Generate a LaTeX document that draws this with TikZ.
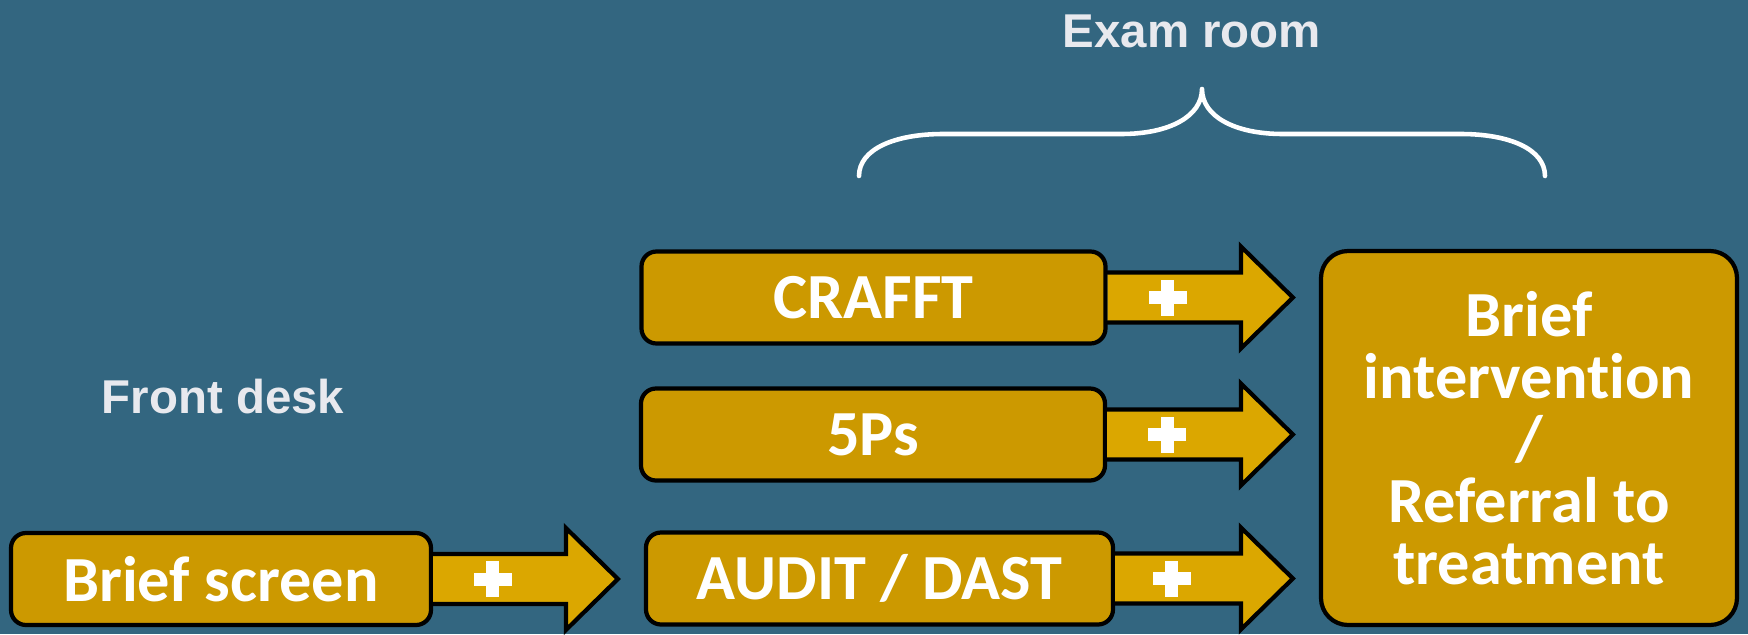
\documentclass[tikz,border=0pt]{standalone}
\usepackage{fontspec}
\setmainfont{Carlito}[Ligatures=NoCommon]
\newfontfamily\headfont{Liberation Sans}
\usetikzlibrary{calc}

\definecolor{slateblue}{RGB}{51,102,128}
\definecolor{boxgold}{RGB}{204,153,0}
\definecolor{arrowgold}{RGB}{219,167,0}
\definecolor{headgray}{RGB}{232,233,238}

\begin{document}
\begin{tikzpicture}[line cap=round, line join=round]
  \def\sh{0.25} % nửa bề dày thân mũi tên
  \def\hh{0.51} % nửa bề cao đầu mũi tên
  \def\hl{0.52} % chiều dài đầu mũi tên
  \tikzset{
    box/.style={line width=1.2pt, draw=black, fill=boxgold, rounded corners=0.15cm, text=white,
      font=\fontsize{18.3}{17.6}\selectfont\bfseries, align=center, inner sep=0pt},
    bigbox/.style={box, rounded corners=0.27cm},
    blockarrow/.style={line width=1.2pt, draw=black, fill=arrowgold, line join=miter},
    roomtext/.style={text=headgray, font=\headfont\fontsize{13.5}{16}\selectfont\bfseries},
    brace/.style={line width=1.3pt, draw=white}
  }
  % mũi tên khối có dấu cộng: #1 ô nguồn, #2 ô đích, #3 tên
  \def\plusarrow#1#2#3{%
    \coordinate (#3-s) at (#1.east);
    \coordinate (#3-t) at ($(#1.east -| #2.west)+(-0.26,0)$);
    \filldraw[blockarrow] ($(#3-s)+(0,\sh)$) -- ($(#3-t)+(-\hl,\sh)$) -- ($(#3-t)+(-\hl,\hh)$)
      -- (#3-t) -- ($(#3-t)+(-\hl,-\hh)$) -- ($(#3-t)+(-\hl,-\sh)$) -- ($(#3-s)+(0,-\sh)$);
    \coordinate (#3-p) at ($(#3-s)!0.45!($(#3-t)+(-\hl,0)$)$);
    \fill[white] ($(#3-p)+(-0.19,-0.065)$) rectangle ($(#3-p)+(0.19,0.065)$);
    \fill[white] ($(#3-p)+(-0.065,-0.18)$) rectangle ($(#3-p)+(0.065,0.18)$);
  }

  % nền
  \fill[slateblue] (0,0) rectangle (17.48,6.34);
  \useasboundingbox (0,0) rectangle (17.48,6.34);

  % các ô
  \node[box, minimum width=4.2cm, minimum height=0.92cm] (brief) at (2.21,0.55) {Brief screen};
  \node[box, minimum width=4.67cm, minimum height=0.92cm] (audit) at (8.795,0.555) {AUDIT / DAST};
  \node[box, minimum width=4.64cm, minimum height=0.92cm] (fivep) at (8.73,1.995) {5Ps};
  \node[box, minimum width=4.64cm, minimum height=0.92cm] (crafft) at (8.735,3.365) {CRAFFT};
  \node[bigbox, minimum width=4.16cm, minimum height=3.74cm] (bi) at (15.29,1.96)
    {Brief\\intervention\\/\\Referral to\\treatment};

  % mũi tên
  \plusarrow{brief}{audit}{a1}
  \plusarrow{crafft}{bi}{a2}
  \plusarrow{fivep}{bi}{a3}
  \plusarrow{audit}{bi}{a4}

  % nhãn vị trí
  \node[roomtext, anchor=base] (exam) at (11.92,5.87) {Exam room};
  \node[roomtext, anchor=base] (front) at (2.23,2.21) {Front desk};

  % ngoặc nhọn
  \draw[brace] (8.59,4.58) .. controls (8.59,4.85) and (8.95,5.00) .. (9.43,5.00) -- (11.21,5.00)
    .. controls (11.70,5.00) and (12.02,5.18) .. (12.02,5.45)
    .. controls (12.02,5.18) and (12.34,5.00) .. (12.83,5.00) -- (14.61,5.00)
    .. controls (15.09,5.00) and (15.45,4.85) .. (15.45,4.58);
\end{tikzpicture}
\end{document}
